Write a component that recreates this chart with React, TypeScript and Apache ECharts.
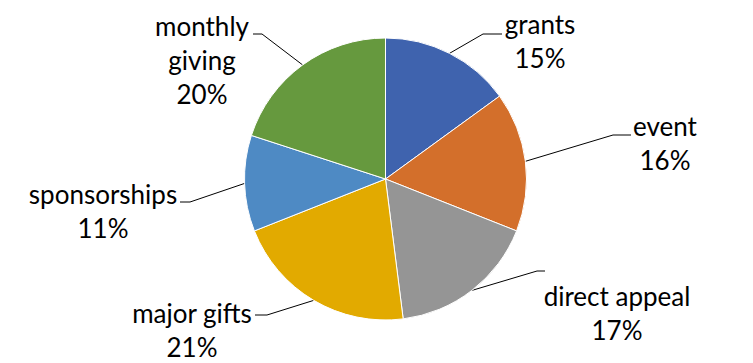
import React, { useEffect, useRef } from "react";
import * as echarts from "echarts";

const categories = ["grants", "event", "direct appeal", "major gifts", "sponsorships", "monthly giving"];
const labelTexts = ["grants", "event", "direct appeal", "major gifts", "sponsorships", "monthly\ngiving"];
const values = [15, 16, 17, 21, 11, 20];
const colors = ["#3F63AE", "#D36F2B", "#959595", "#E2AA00", "#4E8AC4", "#66993E"];

// label layout: text centre x, text top y, leader elbow, leader end
const LAYOUT = [
  { x: 540, y: 7, elbow: [483, 34], end: [502, 34] },
  { x: 665, y: 109, elbow: [613, 135], end: [631, 135] },
  { x: 617, y: 279, elbow: [537, 271], end: [545, 271] },
  { x: 192, y: 296, elbow: [267, 315], end: [255, 315] },
  { x: 103, y: 177, elbow: [190, 202], end: [180, 202] },
  { x: 202, y: 9, elbow: [262, 34], end: [253, 34] },
];

export default function App() {
  const ref = useRef<HTMLDivElement>(null);
  useEffect(() => {
    if (!ref.current) return;
    const chart = echarts.init(ref.current, null, { renderer: "svg" });
    chart.setOption({
      animation: false,
      backgroundColor: "#fff",
      series: [
        {
          type: "pie",
          center: [385.5, 179],
          radius: 141,
          startAngle: 90,
          clockwise: true,
          data: categories.map((name, i) => ({
            name,
            value: values[i],
            itemStyle: { color: colors[i] },
          })),
          itemStyle: { borderColor: "#fff", borderWidth: 1 },
          label: {
            show: true,
            position: "outside",
            formatter: (p: any) => labelTexts[p.dataIndex] + "\n" + p.percent + "%",
            fontFamily: "Lato",
            fontSize: 26,
            lineHeight: 34,
            color: "#000",
            align: "center",
          },
          labelLine: { show: true, lineStyle: { color: "#000", width: 1 }, length: 20, length2: 10 },
          emphasis: { disabled: true },
          labelLayout: (params: any) => {
            const L = LAYOUT[params.dataIndex];
            const p0 = params.labelLinePoints ? params.labelLinePoints[0] : L.elbow;
            return {
              x: L.x,
              y: L.y,
              align: "center",
              verticalAlign: "top",
              labelLinePoints: [p0, L.elbow, L.end],
            };
          },
        },
      ],
    });
    return () => chart.dispose();
  }, []);
  return (
    <div
      ref={ref}
      style={{ position: "fixed", left: 0, top: 0, width: 753, height: 363 }}
    />
  );
}
